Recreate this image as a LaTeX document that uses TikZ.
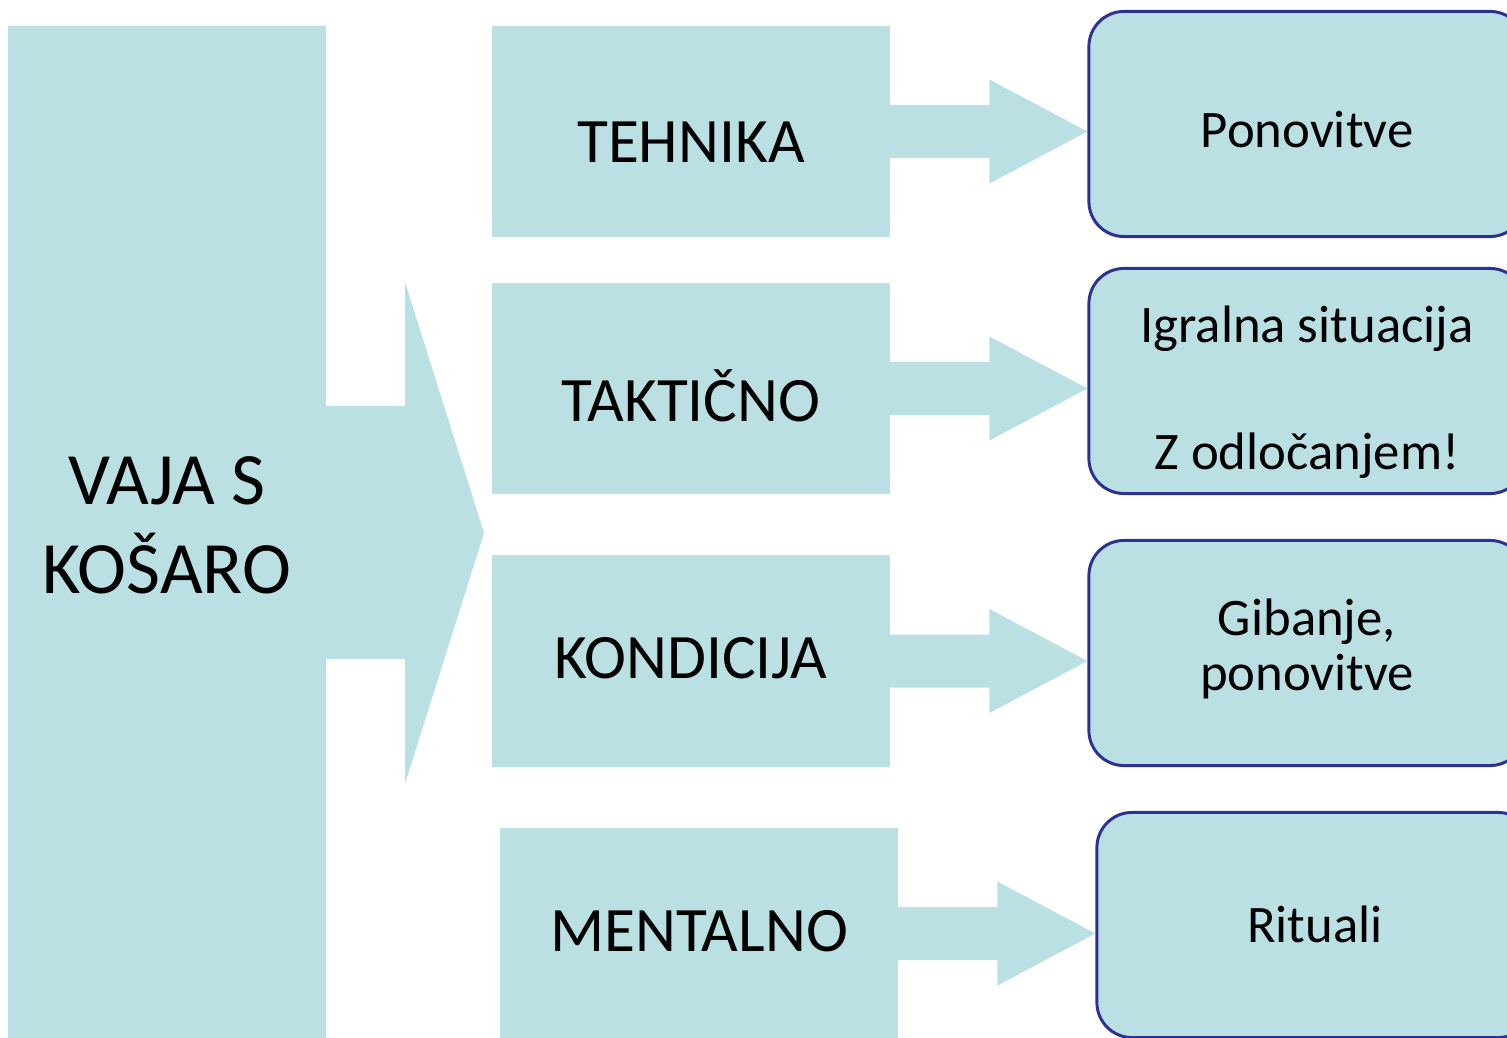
\documentclass[tikz,border=0pt]{standalone}
\usepackage{fontspec}
\setmainfont{Carlito}
\usepackage{tikz}
\usetikzlibrary{calc}
\definecolor{boxfill}{RGB}{186,224,227}
\definecolor{boxline}{RGB}{46,49,146}
\tikzstyle{stage}=[fill=boxfill,minimum width=3.98cm,minimum height=2.11cm,inner sep=0pt,text depth=0pt,font=\fontsize{18}{21.6}\selectfont]
\tikzstyle{task}=[draw=boxline,fill=boxfill,line width=0.85pt,rounded corners=10pt,minimum width=4.36cm,minimum height=2.25cm,inner sep=0pt,align=center,text depth=0pt,font=\fontsize{15}{15.65}\selectfont]

\begin{document}
\begin{tikzpicture}[x=0.01cm,y=-0.01cm]
  \useasboundingbox (0,0) rectangle (1507,1037);

  % velika puscica na levi
  \fill[boxfill] (8,26) -- (326,26) -- (326,406) -- (405,406) -- (405,282) -- (484,533)
    -- (405,784) -- (405,659) -- (326,659) -- (326,1040) -- (8,1040) -- cycle;
  \node[anchor=base,align=center,font=\fontsize{21}{25.3}\selectfont] (vaja) at (167,593) {VAJA S\\KOŠARO};

  \node[stage,text height=17.4pt] (tehn) at (691,131.5) {TEHNIKA};
  \node[stage,text height=18.8pt] (takt) at (691,388.5) {TAKTIČNO};
  \node[stage,text height=10.2pt] (kond) at (691,661) {KONDICIJA};
  \node[stage,text height=10pt] (ment) at (699,933.5) {MENTALNO};

  \node[task,text height=13.1pt] (ponov) at (1307,124) {Ponovitve};
  \node[task,text height=50.6pt] (igral) at (1307,381) {Igralna situacija\\[20.5pt]Z odločanjem!};
  \node[task,text height=21.1pt] (giban) at (1307,653) {Gibanje,\\ponovitve};
  \node[task,text height=9.7pt] (rit) at (1315,925) {Rituali};

  \foreach \u/\v in {tehn/ponov,takt/igral,kond/giban,ment/rit}{
    \fill[boxfill] ($(\u.east)+(-1,-26.5)$) -- ($(\v.west |- \u.east)+(-98,-26.5)$) -- ++(0,-25.5)
      -- (\v.west |- \u.east) -- ($(\v.west |- \u.east)+(-98,52)$) -- ++(0,-25.5)
      -- ($(\u.east)+(-1,26.5)$) -- cycle;
  }
\end{tikzpicture}
\end{document}
